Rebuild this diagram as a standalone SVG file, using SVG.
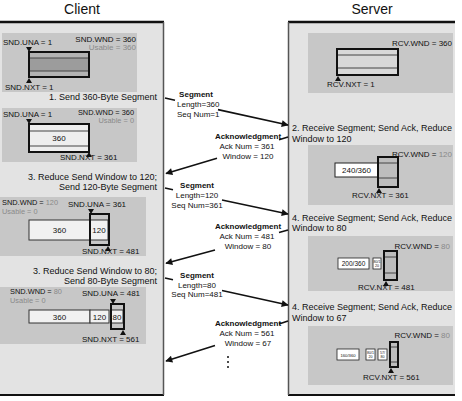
<svg xmlns="http://www.w3.org/2000/svg" width="462" height="401" viewBox="0 0 462 401">
<defs>
<style>
text{font-family:"Liberation Sans",Arial,sans-serif;font-size:8px;fill:#111}
.g{fill:#8a8a8a}
.b{font-weight:bold}
.st{font-size:9px}
.ti{font-size:14px}
.m{text-anchor:middle}
.e{text-anchor:end}
.s{font-size:7.4px}
.panel{fill:#e3e3e3}
.box{fill:#c7c7c7}
.win{fill:none;stroke:#111;stroke-width:2}
.cell{fill:#f1f1f1;stroke:#333;stroke-width:1}
.ln{stroke:#444;stroke-width:1}
.conn{stroke:#111;stroke-width:1.6;fill:none;marker-end:url(#ah)}
.tiny{font-size:3.6px}
</style>
<marker id="ah" viewBox="0 0 10 10" refX="9" refY="5" markerWidth="10" markerHeight="7" orient="auto" markerUnits="userSpaceOnUse"><path d="M0,0 L10,5 L0,10 Z" fill="#111"/></marker>
<path id="tdn" d="M-3,-5 L3,-5 L0,0 Z" fill="#111"/>
<path id="tup" d="M-3,5 L3,5 L0,0 Z" fill="#111"/>
</defs>
<rect width="462" height="401" fill="#fff"/>

<g id="client">
<text class="ti m" x="82" y="14">Client</text>
<rect class="panel" x="0" y="22" width="163" height="373"/>
<line x1="0" y1="22" x2="164" y2="22" stroke="#111" stroke-width="2.5"/>
<line x1="0" y1="395" x2="164" y2="395" stroke="#111" stroke-width="2"/>
<line x1="163.5" y1="22" x2="163.5" y2="395" stroke="#555" stroke-width="1.5"/>
</g>

<g id="server">
<text class="ti m" x="372" y="14">Server</text>
<rect class="panel" x="288" y="22" width="167" height="373"/>
<line x1="288" y1="22" x2="455" y2="22" stroke="#111" stroke-width="2.5"/>
<line x1="288" y1="395" x2="455" y2="395" stroke="#111" stroke-width="2"/>
<line x1="288.5" y1="22" x2="288.5" y2="395" stroke="#555" stroke-width="1.5"/>
</g>

<g id="client-state-1">
<rect class="box" x="2" y="33" width="135" height="59"/>
<text x="3" y="45">SND.UNA = 1</text>
<text class="e" x="136" y="42">SND.WND = 360</text>
<text class="e g" x="136" y="50">Usable = 360</text>
<rect x="29" y="52" width="60" height="25" fill="#b3b3b3"/>
<rect x="29" y="58" width="60" height="13" fill="#9c9c9c"/>
<line class="ln" x1="29" y1="58" x2="89" y2="58"/>
<line class="ln" x1="29" y1="71" x2="89" y2="71"/>
<rect class="win" x="29" y="52" width="60" height="25"/>
<use href="#tdn" x="29" y="52"/>
<use href="#tup" x="29" y="78"/>
<text x="5" y="90">SND.NXT = 1</text>
</g>
<g id="client-step-1"><text class="st e" x="157" y="100">1. Send 360-Byte Segment</text></g>

<g id="client-state-2">
<rect class="box" x="2" y="108" width="135" height="54"/>
<text x="3" y="117">SND.UNA = 1</text>
<text class="e s" x="134" y="114.5">SND.WND = 360</text>
<text class="e g s" x="134" y="122.5">Usable = 0</text>
<rect x="29" y="124" width="60" height="28" fill="#eeeeee"/>
<line class="ln" x1="29" y1="131" x2="89" y2="131"/>
<line class="ln" x1="29" y1="146" x2="89" y2="146"/>
<rect class="win" x="29" y="124" width="60" height="28"/>
<text class="m" x="59" y="141">360</text>
<use href="#tdn" x="29" y="124"/>
<use href="#tup" x="89" y="152"/>
<text x="60" y="160">SND.NXT = 361</text>
</g>
<g id="client-step-3"><text class="st e" x="157" y="180">3. Reduce Send Window to 120;</text><text class="st e" x="157" y="190">Send 120-Byte Segment</text></g>

<g id="client-state-3">
<rect class="box" x="0" y="197" width="146" height="59"/>
<text class="s" x="2" y="205">SND.WND = <tspan class="g">120</tspan></text>
<text class="g s" x="2" y="213.5">Usable = 0</text>
<text x="68" y="207">SND.UNA = 361</text>
<rect class="cell" x="29" y="220" width="61" height="20"/>
<text class="m" x="59.5" y="233">360</text>
<rect class="cell" x="90" y="220" width="18" height="20"/>
<text class="m" x="99" y="233">120</text>
<rect class="win" x="90" y="214" width="19" height="31"/>
<use href="#tdn" x="91" y="214"/>
<use href="#tup" x="108" y="246"/>
<text x="82" y="254">SND.NXT = 481</text>
</g>
<g id="client-step-5"><text class="st e" x="157" y="274">3. Reduce Send Window to 80;</text><text class="st e" x="157" y="284">Send 80-Byte Segment</text></g>

<g id="client-state-4">
<rect class="box" x="0" y="287" width="146" height="57"/>
<text class="s" x="10" y="294">SND.WND = <tspan class="g">80</tspan></text>
<text class="g s" x="10" y="302.5">Usable = 0</text>
<text x="82" y="296">SND.UNA = 481</text>
<rect class="cell" x="29" y="310" width="61" height="13"/>
<text class="m" x="59.5" y="319.5">360</text>
<rect class="cell" x="90" y="310" width="19" height="13"/>
<text class="m" x="99.5" y="319.5">120</text>
<rect class="cell" x="111" y="310" width="12" height="13"/>
<text class="m" x="117" y="319.5">80</text>
<rect class="win" x="111" y="304" width="13" height="25"/>
<use href="#tdn" x="113" y="304"/>
<use href="#tup" x="123" y="330"/>
<text x="82" y="342">SND.NXT = 561</text>
</g>

<g id="server-state-1">
<rect class="box" x="308" y="33" width="145" height="60"/>
<text class="e" x="452" y="46">RCV.WND = 360</text>
<rect x="337" y="49" width="61" height="26" fill="#d9d9d9"/>
<line class="ln" x1="337" y1="55" x2="398" y2="55"/>
<line class="ln" x1="337" y1="68" x2="398" y2="68"/>
<rect class="win" x="337" y="49" width="61" height="26"/>
<use href="#tup" x="338" y="76"/>
<text x="327" y="87">RCV.NXT = 1</text>
</g>
<g id="server-step-2"><text class="st" x="292" y="131">2. Receive Segment; Send Ack, Reduce</text><text class="st" x="292" y="142">Window to 120</text></g>

<g id="server-state-2">
<rect class="box" x="308" y="145" width="145" height="60"/>
<text class="e" x="452" y="157">RCV.WND = <tspan class="g">120</tspan></text>
<rect x="335" y="163" width="43" height="14" fill="#fff" stroke="#222" stroke-width="1"/>
<text class="m" x="356.5" y="173">240/360</text>
<rect x="378" y="157" width="20" height="30" fill="#bdbdbd"/>
<line class="ln" x1="378" y1="163" x2="398" y2="163"/>
<line class="ln" x1="378" y1="178" x2="398" y2="178"/>
<rect class="win" x="378" y="157" width="20" height="30"/>
<use href="#tup" x="379" y="188"/>
<text x="352" y="198">RCV.NXT = 361</text>
</g>
<g id="server-step-4"><text class="st" x="292" y="221">4. Receive Segment; Send Ack, Reduce</text><text class="st" x="292" y="231">Window to 80</text></g>

<g id="server-state-3">
<rect class="box" x="308" y="236" width="145" height="55"/>
<text class="e" x="450" y="249">RCV.WND = <tspan class="g">80</tspan></text>
<rect x="338" y="258" width="31" height="11" fill="#fff" stroke="#222" stroke-width="0.8"/>
<text class="m" x="353.5" y="266" style="font-size:6.5px">200/360</text>
<rect x="373" y="258" width="8" height="11" fill="#fff" stroke="#222" stroke-width="0.8"/>
<text class="m tiny" x="377" y="262.8">80/1<tspan x="377" dy="3.8">20</tspan></text>
<rect x="384" y="251" width="13" height="29" fill="#bdbdbd"/>
<line class="ln" x1="384" y1="257" x2="397" y2="257"/>
<line class="ln" x1="384" y1="273" x2="397" y2="273"/>
<rect class="win" x="384" y="251" width="13" height="29"/>
<use href="#tup" x="386" y="281"/>
<text x="358" y="290">RCV.NXT = 481</text>
</g>
<g id="server-step-6"><text class="st" x="292" y="310">4. Receive Segment; Send Ack, Reduce</text><text class="st" x="292" y="321">Window to 67</text></g>

<g id="server-state-4">
<rect class="box" x="308" y="326" width="145" height="59"/>
<text class="e" x="450" y="338">RCV.WND = <tspan class="g">80</tspan></text>
<rect x="337" y="349" width="22" height="11" fill="#fff" stroke="#222" stroke-width="0.8"/>
<text class="m" x="348" y="356.5" style="font-size:4.2px">160/360</text>
<rect x="366" y="349" width="9" height="11" fill="#fff" stroke="#222" stroke-width="0.8"/>
<text class="m tiny" x="370.5" y="353.8">80/1<tspan x="370.5" dy="3.8">20</tspan></text>
<rect x="378" y="349" width="9" height="11" fill="#fff" stroke="#222" stroke-width="0.8"/>
<text class="m tiny" x="382.5" y="353.8">57/<tspan x="382.5" dy="3.8">80</tspan></text>
<rect x="390" y="342" width="8" height="25" fill="#bdbdbd"/>
<line class="ln" x1="390" y1="347" x2="398" y2="347"/>
<line class="ln" x1="390" y1="362" x2="398" y2="362"/>
<rect class="win" x="390" y="342" width="8" height="25"/>
<use href="#tup" x="391" y="368"/>
<text x="363" y="380">RCV.NXT = 561</text>
</g>

<g id="connectors">
<path class="conn" d="M165,98 L175,100.2 M218,109.6 L288,125"/>
<text class="b m" x="196" y="97">Segment</text>
<text x="177" y="107">Length=360</text>
<text x="177" y="117">Seq Num=1</text>

<path class="conn" d="M288,137 L279,139.7 M217,158.3 L166,173.5"/>
<text class="b m" x="248" y="139">Acknowledgment</text>
<text class="m" x="247" y="149">Ack Num = 361</text>
<text class="m" x="248" y="159">Window = 120</text>

<path class="conn" d="M165,188 L173,189.7 M222,200 L288,214"/>
<text class="b m" x="197" y="188">Segment</text>
<text class="m" x="197" y="198">Length=120</text>
<text class="m" x="197" y="208">Seq Num=361</text>

<path class="conn" d="M288,230 L279,232.5 M215,250 L166,263.3"/>
<text class="b m" x="248" y="229">Acknowledgment</text>
<text class="m" x="247" y="239">Ack Num = 481</text>
<text class="m" x="248" y="249">Window = 80</text>

<path class="conn" d="M165,278 L173,279.8 M222,290.5 L288,305"/>
<text class="b m" x="197" y="278">Segment</text>
<text class="m" x="197" y="288">Length=80</text>
<text class="m" x="197" y="297">Seq Num=481</text>

<path class="conn" d="M288,321 L279,324 M215,345.5 L166,361"/>
<text class="b m" x="248" y="326">Acknowledgment</text>
<text class="m" x="247" y="336">Ack Num = 561</text>
<text class="m" x="248" y="346">Window = 67</text>
<g fill="#111"><circle cx="228" cy="357" r="1"/><circle cx="228" cy="362" r="1"/><circle cx="228" cy="367" r="1"/></g>
</g>
</svg>
